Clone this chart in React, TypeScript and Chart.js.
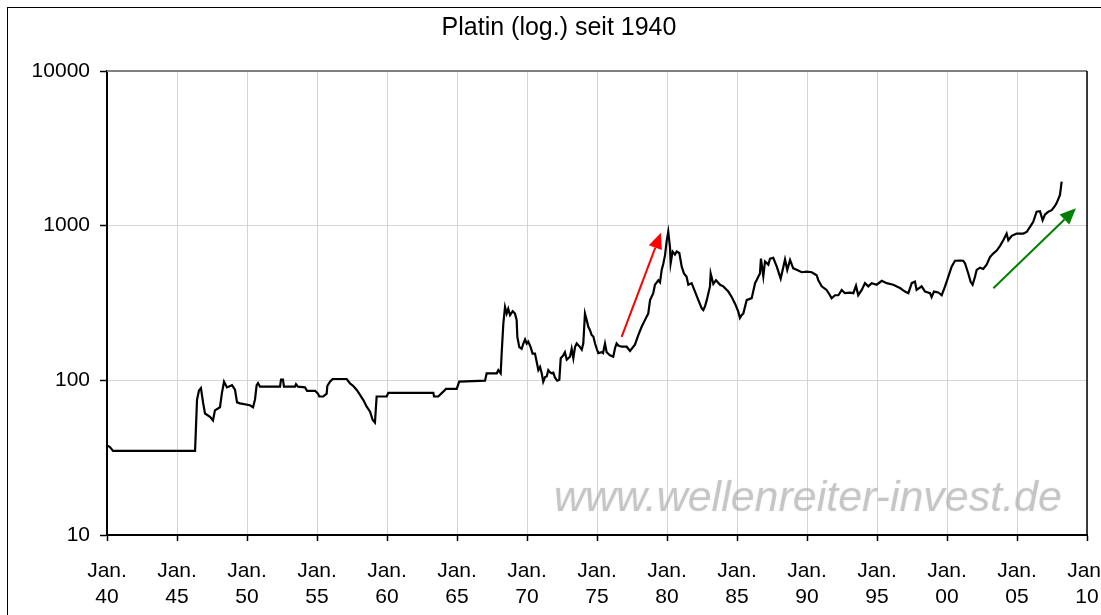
import React, { useEffect, useRef } from 'react';
import { Chart, registerables } from 'chart.js';

Chart.register(...registerables);

const chartTitle = 'Platin (log.) seit 1940';
const watermarkText = 'www.wellenreiter-invest.de';

const years = [
  1940.0, 1940.21, 1940.43, 1946.29, 1946.43, 1946.57, 1946.71, 1946.86, 1947.0, 1947.36,
  1947.57, 1947.71, 1948.07, 1948.21, 1948.36, 1948.57, 1948.93, 1949.14, 1949.29, 1949.5,
  1950.21, 1950.43, 1950.57, 1950.69, 1950.79, 1950.93, 1952.36, 1952.43, 1952.57, 1952.64,
  1953.43, 1953.5, 1953.64, 1954.14, 1954.29, 1954.86, 1955.07, 1955.16, 1955.45, 1955.69,
  1955.74, 1955.93, 1956.12, 1957.12, 1957.36, 1957.59, 1957.84, 1958.07, 1958.31, 1958.55,
  1958.79, 1958.98, 1959.14, 1959.26, 1959.98, 1960.09, 1963.31, 1963.36, 1963.66, 1964.02,
  1964.21, 1964.98, 1965.16, 1967.0, 1967.12, 1967.84, 1967.95, 1968.12, 1968.19, 1968.31,
  1968.43, 1968.55, 1968.66, 1968.79, 1968.98, 1969.14, 1969.26, 1969.31, 1969.45, 1969.62,
  1969.74, 1969.86, 1969.98, 1970.09, 1970.26, 1970.4, 1970.57, 1970.69, 1970.81, 1970.93,
  1971.05, 1971.16, 1971.29, 1971.41, 1971.52, 1971.64, 1971.76, 1971.88, 1972.0, 1972.16,
  1972.31, 1972.41, 1972.59, 1972.71, 1972.84, 1973.07, 1973.19, 1973.31, 1973.43, 1973.55,
  1973.79, 1973.91, 1974.02, 1974.14, 1974.26, 1974.38, 1974.5, 1974.62, 1974.74, 1974.86,
  1974.98, 1975.09, 1975.34, 1975.43, 1975.57, 1975.69, 1975.93, 1976.16, 1976.29, 1976.4,
  1976.52, 1976.76, 1977.12, 1977.36, 1977.71, 1977.95, 1978.19, 1978.43, 1978.66, 1978.79,
  1979.02, 1979.14, 1979.38, 1979.5, 1979.62, 1979.74, 1979.86, 1979.98, 1980.09, 1980.21,
  1980.26, 1980.4, 1980.57, 1980.69, 1980.88, 1981.05, 1981.21, 1981.4, 1981.52, 1981.76,
  1982.0, 1982.24, 1982.48, 1982.59, 1982.71, 1982.84, 1983.07, 1983.12, 1983.31, 1983.5,
  1983.79, 1984.02, 1984.38, 1984.62, 1984.86, 1985.09, 1985.21, 1985.34, 1985.45, 1985.69,
  1986.05, 1986.29, 1986.4, 1986.52, 1986.64, 1986.71, 1986.88, 1987.0, 1987.24, 1987.36,
  1987.59, 1987.84, 1988.12, 1988.31, 1988.43, 1988.59, 1988.79, 1989.02, 1989.26, 1989.62,
  1989.98, 1990.34, 1990.69, 1990.81, 1991.05, 1991.4, 1991.64, 1991.76, 1992.0, 1992.24,
  1992.48, 1992.71, 1993.07, 1993.31, 1993.5, 1993.66, 1993.91, 1994.14, 1994.38, 1994.62,
  1994.98, 1995.34, 1995.69, 1996.16, 1996.64, 1997.0, 1997.24, 1997.48, 1997.71, 1997.83,
  1998.19, 1998.43, 1998.79, 1998.9, 1999.07, 1999.38, 1999.62, 1999.86, 2000.09, 2000.33,
  2000.57, 2000.93, 2001.16, 2001.29, 2001.52, 2001.69, 2001.83, 2002.0, 2002.12, 2002.36,
  2002.59, 2002.83, 2003.07, 2003.3, 2003.55, 2003.79, 2004.02, 2004.26, 2004.38, 2004.62,
  2004.98, 2005.45, 2005.69, 2005.93, 2006.16, 2006.4, 2006.64, 2006.83, 2007.0, 2007.24,
  2007.48, 2007.71, 2007.83, 2008.07, 2008.19,
];

const prices = [
  38, 37, 35, 35, 75, 86, 89, 72, 61, 58,
  55, 64, 67, 83, 98, 90, 93, 87, 72, 71,
  69, 67, 75, 93, 96, 91, 91, 101, 101, 91,
  91, 94.5, 91, 90, 85.6, 85.6, 82, 78.6, 78.6, 82,
  92, 98, 102, 102, 95.5, 92, 86.6, 80.5, 74.5, 67.5,
  62.7, 55.4, 53.3, 78.6, 78.6, 83, 83, 78.6, 78.6, 84.5,
  88, 88, 98, 99.5, 111, 111, 116.5, 111, 149, 233,
  298, 270, 290, 264, 280, 270, 246, 191, 164, 160,
  173, 184, 173, 178, 164, 149, 149, 132, 116.5, 122,
  111, 98, 105, 106, 116.5, 113, 111, 112, 104, 99.5,
  101, 139, 145, 152, 136, 142, 160, 139, 164, 173,
  164, 158, 173, 270, 246, 222, 211, 196, 192, 173,
  160, 150, 152, 150, 173, 152, 145, 142, 162, 173,
  168, 165, 165, 155, 170, 196, 222, 246, 270, 330,
  366, 415, 444, 430, 518, 570, 645, 800, 912, 730,
  570, 680, 650, 680, 665, 543, 491, 467, 415, 425,
  375, 330, 292, 285, 300, 330, 405, 491, 420, 444,
  415, 405, 375, 346, 313, 278, 253, 265, 270, 330,
  340, 425, 444, 467, 491, 612, 470, 587, 560, 612,
  620, 543, 455, 540, 605, 518, 600, 530, 518, 500,
  505, 500, 478, 444, 405, 384, 355, 339, 355, 355,
  384, 366, 369, 366, 409, 355, 384, 425, 405, 425,
  415, 440, 425, 415, 395, 375, 366, 425, 435, 384,
  405, 375, 366, 345, 375, 370, 355, 405, 467, 543,
  593, 595, 593, 570, 491, 434, 415, 467, 518, 535,
  525, 560, 626, 660, 690, 740, 805, 889, 805, 860,
  889, 889, 910, 983, 1060, 1230, 1240, 1085, 1180, 1230,
  1260, 1340, 1400, 1580, 1925,
];

const yTickValues = [10, 100, 1000, 10000];
const xMin = 1940;
const xMax = 2010;
const xStep = 5;

// arrows in data coordinates: [year, price]
const redArrowFrom = [1976.76, 191];
const redArrowTo = [1979.57, 901];
const greenArrowFrom = [2003.31, 394];
const greenArrowTo = [2009.21, 1295];

const FONT = '"Liberation Sans", Arial, Helvetica, sans-serif';

function drawArrow(ctx: CanvasRenderingContext2D, x1: number, y1: number, x2: number, y2: number, color: string) {
  const headLen = 16;
  const headW = 7;
  const ang = Math.atan2(y2 - y1, x2 - x1);
  const bx = x2 - headLen * Math.cos(ang);
  const by = y2 - headLen * Math.sin(ang);
  ctx.save();
  ctx.strokeStyle = color;
  ctx.fillStyle = color;
  ctx.lineWidth = 2;
  ctx.beginPath();
  ctx.moveTo(x1, y1);
  ctx.lineTo(bx, by);
  ctx.stroke();
  ctx.beginPath();
  ctx.moveTo(x2, y2);
  ctx.lineTo(bx + headW * Math.sin(ang), by - headW * Math.cos(ang));
  ctx.lineTo(bx - headW * Math.sin(ang), by + headW * Math.cos(ang));
  ctx.closePath();
  ctx.fill();
  ctx.restore();
}

const decorPlugin = {
  id: 'decor',
  beforeDraw(chart: any) {
    const { ctx, width, height } = chart;
    ctx.save();
    ctx.fillStyle = '#ffffff';
    ctx.fillRect(0, 0, width, height);
    ctx.strokeStyle = '#000000';
    ctx.lineWidth = 1;
    ctx.strokeRect(7.5, 7.5, width + 100, height + 100);
    ctx.fillStyle = '#000000';
    ctx.font = `25px ${FONT}`;
    ctx.textAlign = 'center';
    ctx.textBaseline = 'alphabetic';
    ctx.fillText(chartTitle, 559, 35);
    ctx.restore();
  },
  beforeDatasetsDraw(chart: any) {
    const { ctx, chartArea } = chart;
    ctx.save();
    const targetW = 508;
    ctx.font = `italic 34px ${FONT}`;
    const w = ctx.measureText(watermarkText).width;
    const size = 34 * targetW / w;
    ctx.font = `italic ${size}px ${FONT}`;
    ctx.fillStyle = 'rgba(165,165,165,0.55)';
    ctx.shadowColor = 'rgba(190,190,190,0.6)';
    ctx.shadowBlur = 2;
    ctx.textAlign = 'left';
    ctx.textBaseline = 'alphabetic';
    ctx.fillText(watermarkText, chartArea.right - 533, 511);
    ctx.restore();
  },
  afterDraw(chart: any) {
    const { ctx, chartArea, scales } = chart;
    const x = scales.x;
    const y = scales.y;
    ctx.save();
    ctx.strokeStyle = '#808080';
    ctx.lineWidth = 2;
    ctx.beginPath();
    ctx.moveTo(chartArea.left, chartArea.top);
    ctx.lineTo(chartArea.right, chartArea.top);
    ctx.stroke();
    ctx.strokeStyle = '#000000';
    ctx.lineWidth = 1.5;
    ctx.beginPath();
    ctx.moveTo(chartArea.right, chartArea.top);
    ctx.lineTo(chartArea.right, chartArea.bottom);
    ctx.stroke();
    ctx.restore();
    drawArrow(ctx,
      x.getPixelForValue(redArrowFrom[0]), y.getPixelForValue(redArrowFrom[1]),
      x.getPixelForValue(redArrowTo[0]), y.getPixelForValue(redArrowTo[1]), '#ff0000');
    drawArrow(ctx,
      x.getPixelForValue(greenArrowFrom[0]), y.getPixelForValue(greenArrowFrom[1]),
      x.getPixelForValue(greenArrowTo[0]), y.getPixelForValue(greenArrowTo[1]), '#008000');
  },
};

export default function App() {
  const ref = useRef<HTMLCanvasElement>(null);
  useEffect(() => {
    if (!ref.current) return;
    const data = years.map((yr, i) => ({ x: yr, y: prices[i] }));
    const xTicks: number[] = [];
    for (let v = xMin; v <= xMax; v += xStep) xTicks.push(v);
    const chart = new Chart(ref.current, {
      type: 'line',
      data: {
        datasets: [{
          label: 'Platin',
          data,
          borderColor: '#000000',
          borderWidth: 2.2,
          pointRadius: 0,
          tension: 0,
          fill: false,
        }],
      },
      options: {
        animation: false,
        responsive: false,
        events: [],
        layout: { padding: { top: 71, right: 14, left: 0, bottom: 0 } },
        plugins: {
          legend: { display: false },
          tooltip: { enabled: false },
          title: { display: false },
        },
        scales: {
          x: {
            type: 'linear',
            min: xMin,
            max: xMax,
            afterBuildTicks: (s: any) => { s.ticks = xTicks.map((v) => ({ value: v })); },
            afterFit: (s: any) => { s.height = 80; s.paddingLeft = 0; s.paddingRight = 0; },
            ticks: {
              color: '#000000',
              font: { family: FONT, size: 21, lineHeight: 1.2 },
              padding: 18,
              maxRotation: 0,
              autoSkip: false,
              callback: (v: any) => ['Jan.', String(Number(v) % 100).padStart(2, '0')],
            },
            grid: { color: '#d4d4d4', lineWidth: 1, tickColor: '#000000', tickLength: 6, tickWidth: 1.5 },
            border: { color: '#000000', width: 2 },
          },
          y: {
            type: 'logarithmic',
            min: 10,
            max: 10000,
            afterBuildTicks: (s: any) => { s.ticks = yTickValues.map((v) => ({ value: v })); },
            afterFit: (s: any) => { s.width = 107; s.paddingTop = 0; s.paddingBottom = 0; },
            ticks: {
              color: '#000000',
              font: { family: FONT, size: 21 },
              padding: 10,
              autoSkip: false,
              callback: (v: any) => String(v),
            },
            grid: { color: '#d4d4d4', lineWidth: 1, tickColor: '#000000', tickLength: 7, tickWidth: 1.5 },
            border: { color: '#000000', width: 2 },
          },
        },
      },
      plugins: [decorPlugin],
    } as any);
    return () => chart.destroy();
  }, []);
  return (
    <div style={{ position: 'fixed', left: 0, top: 0, width: 1101, height: 615, background: '#fff' }}>
      <canvas ref={ref} width={1101} height={615} style={{ display: 'block' }} />
    </div>
  );
}
